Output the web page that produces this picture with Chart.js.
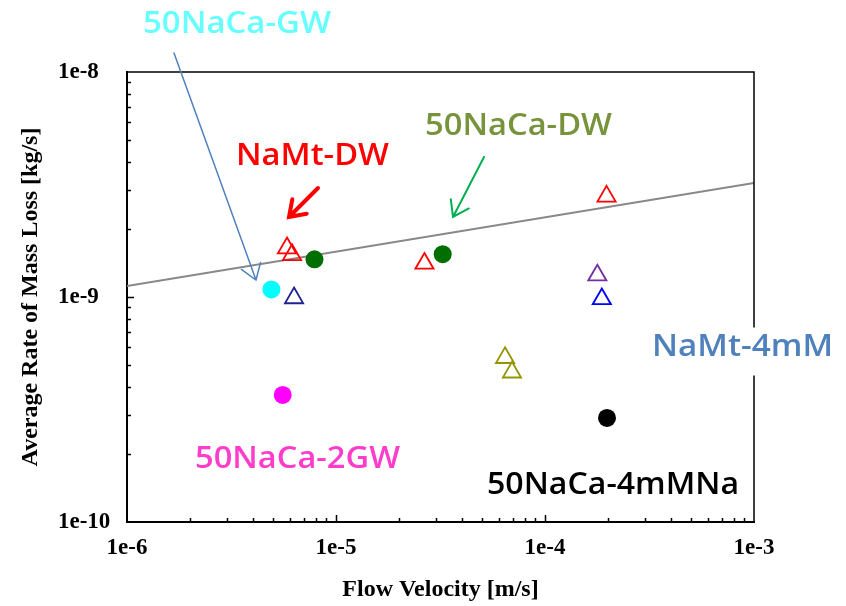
<!DOCTYPE html>
<html>
<head>
<meta charset="utf-8">
<title>Mass loss vs flow velocity</title>
<script src="https://cdn.jsdelivr.net/npm/chart.js@4.4.0/dist/chart.umd.min.js"></script>
<style>
  html, body { margin: 0; padding: 0; background: #fff; }
  #chart { display: block; }
</style>
</head>
<body>
<canvas id="chart" width="846" height="606"></canvas>
<script>
// axis ticks
const xTicks = [1e-6, 1e-5, 1e-4, 1e-3];
const yTicks = [1e-10, 1e-9, 1e-8];

// series: [flow velocity m/s, mass loss kg/s]
const namtDW = [[5.83e-6, 1.65e-9], [6.16e-6, 1.54e-9], [2.65e-5, 1.41e-9], [1.97e-4, 2.80e-9]];
const namt4mMnavy = [[6.30e-6, 9.9e-10]];
const namt4mMpurple = [[1.78e-4, 1.25e-9]];
const namt4mMblue = [[1.87e-4, 9.8e-10]];
const olive = [[6.44e-5, 5.37e-10], [6.95e-5, 4.63e-10]];
const naca50DW = [[7.89e-6, 1.47e-9], [3.24e-5, 1.55e-9]];
const naca50GW = [[4.91e-6, 1.08e-9]];
const naca502GW = [[5.56e-6, 3.67e-10]];
const naca504mMNa = [[1.98e-4, 2.90e-10]];
const fitLine = [[1e-6, 1.12e-9], [1e-3, 3.21e-9]];

const pts = arr => arr.map(p => ({ x: p[0], y: p[1] }));
const tickLabel = v => '1e' + Math.round(Math.log10(v));

function tri(data, color) {
  return { data: pts(data), pointStyle: 'triangle', pointRadius: 10.5, pointBorderWidth: 1.8,
    pointBorderColor: color, pointBackgroundColor: 'rgba(0,0,0,0)' };
}
function dot(data, color) {
  return { data: pts(data), pointStyle: 'circle', pointRadius: 9, pointBorderWidth: 0,
    pointBackgroundColor: color, pointBorderColor: color };
}

// text labels and arrows drawn on top of the chart
const labels = [
  { t: '50NaCa-GW', x0: 143, x1: 331, y: 21.5, c: '#66ffff' },
  { t: 'NaMt-DW', x0: 236, x1: 389, y: 153.5, c: '#ff0000' },
  { t: '50NaCa-DW', x0: 425, x1: 612, y: 123.5, c: '#77933c' },
  { t: 'NaMt-4mM', x0: 652, x1: 833, y: 344.5, c: '#4f81bd', bg: true },
  { t: '50NaCa-2GW', x0: 195, x1: 400, y: 457, c: '#ff3ccc' },
  { t: '50NaCa-4mMNa', x0: 487, x1: 739, y: 482.5, c: '#000000' }
];
const arrows = [
  { x0: 174, y0: 53, x1: 256, y1: 280, c: '#4f81bd', w: 1.5 },
  { x0: 318, y0: 188, x1: 289, y1: 217, c: '#ff0000', w: 4 },
  { x0: 484, y0: 157, x1: 453, y1: 217, c: '#00b050', w: 2 }
];

const decor = {
  id: 'decor',
  afterDraw(chart) {
    const ctx = chart.ctx;
    const a = chart.chartArea;
    const xs = chart.scales.x, ys = chart.scales.y;
    ctx.save();
    // top and right frame
    ctx.strokeStyle = '#000';
    ctx.lineWidth = 1.5;
    ctx.beginPath();
    ctx.moveTo(a.left, a.top);
    ctx.lineTo(a.right, a.top);
    ctx.lineTo(a.right, a.bottom);
    ctx.stroke();
    // inside ticks
    ctx.lineWidth = 1.5;
    ctx.beginPath();
    for (let d = -10; d < -8; d++) {
      for (let k = 1; k < 10; k++) {
        const v = k * Math.pow(10, d);
        if (v <= 1e-10) continue;
        const py = Math.round(ys.getPixelForValue(v)) + 0.5;
        ctx.moveTo(a.left, py);
        ctx.lineTo(a.left + (k === 1 ? 7 : 4), py);
      }
    }
    for (let d = -6; d < -3; d++) {
      for (let k = 1; k < 10; k++) {
        const v = k * Math.pow(10, d);
        if (v <= 1e-6) continue;
        const px = Math.round(xs.getPixelForValue(v)) + 0.5;
        ctx.moveTo(px, a.bottom);
        ctx.lineTo(px, a.bottom - (k === 1 ? 7 : 4));
      }
    }
    ctx.stroke();
    // y axis title
    ctx.fillStyle = '#000';
    ctx.font = 'bold 24px "Liberation Serif"';
    ctx.textAlign = 'center';
    ctx.textBaseline = 'middle';
    ctx.translate(31, (a.top + a.bottom) / 2);
    ctx.rotate(-Math.PI / 2);
    ctx.fillText('Average Rate of Mass Loss [kg/s]', 0, 0);
    ctx.restore();

    // arrows
    arrows.forEach(ar => {
      ctx.save();
      ctx.strokeStyle = ar.c;
      ctx.lineWidth = ar.w;
      ctx.lineCap = 'round';
      ctx.beginPath();
      ctx.moveTo(ar.x0, ar.y0);
      ctx.lineTo(ar.x1, ar.y1);
      const ang = Math.atan2(ar.y1 - ar.y0, ar.x1 - ar.x0);
      const hl = 18, spread = 0.6;
      ctx.moveTo(ar.x1 - hl * Math.cos(ang - spread), ar.y1 - hl * Math.sin(ang - spread));
      ctx.lineTo(ar.x1, ar.y1);
      ctx.lineTo(ar.x1 - hl * Math.cos(ang + spread), ar.y1 - hl * Math.sin(ang + spread));
      ctx.stroke();
      ctx.restore();
    });

    // labels
    labels.forEach(l => {
      ctx.save();
      if (l.bg) {
        ctx.fillStyle = '#fff';
        ctx.fillRect(l.x0 - 8, l.y - 17, 846 - l.x0 + 8, 48);
      }
      const size = 31;
      ctx.font = '600 ' + size + 'px "Open Sans"';
      const w = ctx.measureText(l.t).width;
      ctx.translate(l.x0, l.y + 0.357 * size);
      ctx.scale((l.x1 - l.x0) / w, 1);
      ctx.fillStyle = l.c;
      ctx.textAlign = 'left';
      ctx.textBaseline = 'alphabetic';
      ctx.fillText(l.t, 0, 0);
      ctx.restore();
    });
  }
};

const tickFont = { family: 'Liberation Serif', size: 23, weight: 'bold' };

new Chart(document.getElementById('chart'), {
  type: 'scatter',
  data: {
    datasets: [
      tri(namtDW, '#ff0000'),
      tri(namt4mMnavy, '#202090'),
      tri(namt4mMpurple, '#7030a0'),
      tri(namt4mMblue, '#0000ff'),
      tri(olive, '#949400'),
      dot(naca50DW, '#006f00'),
      dot(naca50GW, '#00ffff'),
      dot(naca502GW, '#ff00ff'),
      dot(naca504mMNa, '#000000'),
      { type: 'line', data: pts(fitLine), borderColor: '#888888', borderWidth: 2, pointRadius: 0, fill: false }
    ]
  },
  options: {
    responsive: false,
    animation: false,
    layout: { padding: { left: 58, right: 92, top: 72, bottom: 0 } },
    plugins: { legend: { display: false }, tooltip: { enabled: false } },
    scales: {
      x: {
        type: 'logarithmic', min: 1e-6, max: 1e-3,
        afterBuildTicks: s => { s.ticks = xTicks.map(v => ({ value: v })); },
        afterFit: s => { s.height = 84; },
        grid: { display: false, drawTicks: false },
        border: { display: true, color: '#000', width: 2 },
        ticks: { callback: tickLabel, font: tickFont, color: '#000', padding: 12, maxRotation: 0 },
        title: { display: true, text: 'Flow Velocity [m/s]', color: '#000',
          font: { family: 'Liberation Serif', size: 24, weight: 'bold' }, padding: { top: 0, bottom: 2 } }
      },
      y: {
        type: 'logarithmic', min: 1e-10, max: 1e-8,
        afterBuildTicks: s => { s.ticks = yTicks.map(v => ({ value: v })); },
        afterFit: s => { s.width = 69; },
        grid: { display: false, drawTicks: false },
        border: { display: true, color: '#000', width: 2 },
        ticks: { callback: tickLabel, font: tickFont, color: '#000', crossAlign: 'far' }
      }
    }
  },
  plugins: [decor]
});
</script>
</body>
</html>
